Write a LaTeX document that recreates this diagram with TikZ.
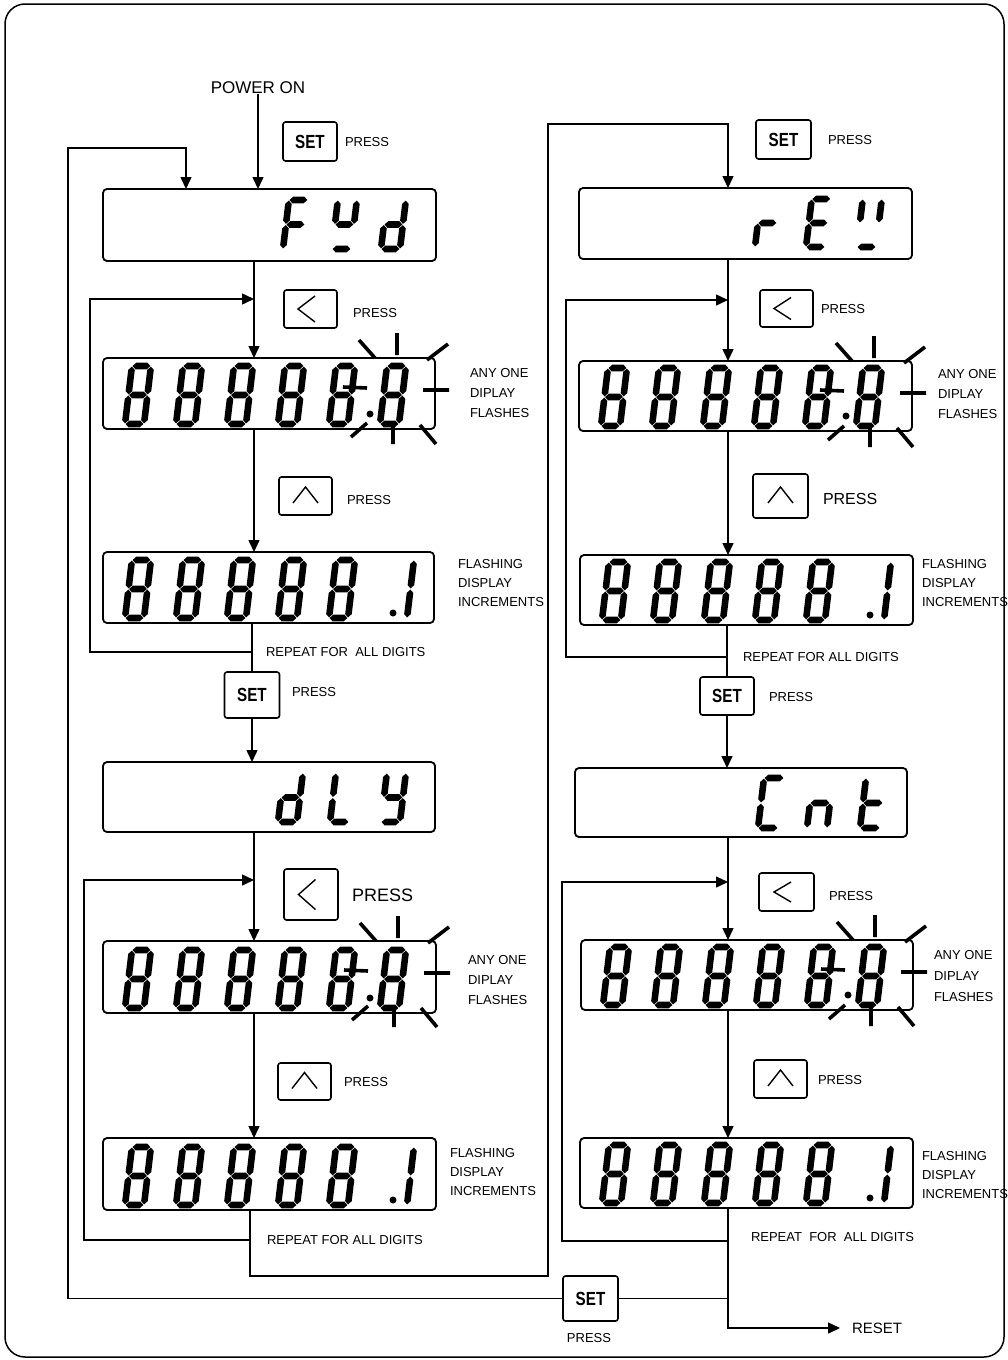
\documentclass[tikz,border=0pt]{standalone}
\usepackage{fontspec}
\setmainfont{Liberation Sans}
\usetikzlibrary{arrows.meta,calc}
% seven-segment helpers
\newcommand\dgT{3.3}
\newcommand\dgG{0.6}
\newcommand\dgW{18}
\newcommand\dgH{58}
\newcommand\segH[3]{\fill ({#1},{#3}) -- ({#1+\dgT},{#3-\dgT}) -- ({#2-\dgT},{#3-\dgT}) -- ({#2},{#3}) -- ({#2-\dgT},{#3+\dgT}) -- ({#1+\dgT},{#3+\dgT}) -- cycle;}
\newcommand\segV[3]{\fill ({#1},{#2}) -- ({#1+\dgT},{#2+\dgT}) -- ({#1+\dgT},{#3-\dgT}) -- ({#1},{#3}) -- ({#1-\dgT},{#3-\dgT}) -- ({#1-\dgT},{#2+\dgT}) -- cycle;}
\newcommand\Sa{\segH{\dgG}{\dgW-\dgG}{-\dgH}}
\newcommand\Sb{\segV{\dgW}{-\dgH+\dgG}{-\dgH/2-\dgG}}
\newcommand\Sc{\segV{\dgW}{-\dgH/2+\dgG}{-\dgG}}
\newcommand\Sd{\segH{\dgG}{\dgW-\dgG}{0}}
\newcommand\Se{\segV{0}{-\dgH/2+\dgG}{-\dgG}}
\newcommand\Sf{\segV{0}{-\dgH+\dgG}{-\dgH/2-\dgG}}
\newcommand\Sg{\segH{\dgG}{\dgW-\dgG}{-\dgH/2}}
\newcommand\dig[3]{\begin{scope}[shift={({#1},{#2})},xslant=0.12]#3\end{scope}}
\newcommand\flashdigits{%
  \renewcommand\dgW{19}\renewcommand\dgH{58}%
  \foreach \k in {0,...,5}{\dig{22+51*\k}{-5}{\Sa\Sb\Sc\Sd\Se\Sf\Sg}}
  \fill (267,-15) circle (3.5);}
\newcommand\incdigits{%
  \renewcommand\dgW{19}\renewcommand\dgH{58}%
  \foreach \k in {0,...,4}{\dig{22+51*\k}{-5}{\Sa\Sb\Sc\Sd\Se\Sf\Sg}}
  \dig{285}{-5}{\Sb\Sc}
  \fill (290,-10) circle (3.5);}
\newcommand\rays{\draw[ray] (-76,-18)--(-60,0) (-38,-25)--(-38,-3) (-8,2)--(13,-14) (-12,32)--(14,32) (-15,67)--(1,86) (-42,65)--(-42,86) (-84,79)--(-68,65) (-92,29)--(-68,30);}
\newcommand\ltglyph[2]{\draw[glyph] ($(#1)+(4.5,-#2)$) -- ($(#1)+(-12.5,0)$) -- ($(#1)+(4.5,#2)$);}
\newcommand\upglyph[1]{\draw[glyph] ($(#1)+(-12.5,7)$) -- ($(#1)+(0,-9)$) -- ($(#1)+(12.5,7)$);}
\begin{document}
\begin{tikzpicture}[x=1pt,y=-1pt,
  disp/.style={draw, rounded corners=4pt, line width=1.8pt, inner sep=0pt, outer sep=0pt},
  key/.style={draw, rounded corners=2.5pt, line width=1.6pt, inner sep=0pt, outer sep=0pt},
  conn/.style={line width=1.5pt},
  arr/.style={conn, -{Triangle[length=12pt,width=11pt]}},
  ray/.style={line width=3.6pt},
  glyph/.style={line width=1.4pt},
  lbl/.style={inner sep=0pt, outer sep=0pt, font=\fontsize{13}{15}\selectfont},
  big/.style={inner sep=0pt, outer sep=0pt, font=\fontsize{17}{20}\selectfont},
  note/.style={inner sep=0pt, outer sep=0pt, align=left, anchor=west, font=\fontsize{13}{20}\selectfont}]
\useasboundingbox (0,0) rectangle (1007,1360);
\draw[line width=1.5pt, rounded corners=20pt] (5,4) rectangle (1004,1357);
\coordinate (colL) at (254,0);
\coordinate (colR) at (728,0);
% ---------------- left column ----------------
\node[big] (pwr) at (258,88) {POWER ON};
\node[key, minimum width=54pt, minimum height=39pt] (set1) at (310,141.5) {\scalebox{0.8}[1]{\bfseries\fontsize{19}{19}\selectfont SET}};
\node[lbl, anchor=west] (p1) at (345,142) {PRESS};
\node[disp, minimum width=333pt, minimum height=72pt] (fyd) at (269.5,225) {};
\node[key, minimum width=53pt, minimum height=38pt] (lt1) at (310.5,309) {};
\node[lbl, anchor=west] (p2) at (353,313) {PRESS};
\node[disp, minimum width=332pt, minimum height=71pt] (fl1) at (269,393.5) {};
\node[note] (t1) at (470,393) {ANY ONE\\DIPLAY\\FLASHES};
\node[key, minimum width=53pt, minimum height=38pt] (up1) at (305.5,496) {};
\node[lbl, anchor=west] (p3) at (347,500) {PRESS};
\node[disp, minimum width=331pt, minimum height=71pt] (in1) at (268.5,587.5) {};
\node[note, font=\fontsize{13}{19}\selectfont] (t2) at (458,583) {FLASHING\\DISPLAY\\INCREMENTS};
\node[lbl, anchor=west] (r1) at (266,652) {REPEAT FOR\ \ ALL DIGITS};
\node[key, minimum width=55pt, minimum height=46pt] (set2) at (252,695) {\scalebox{0.8}[1]{\bfseries\fontsize{19}{19}\selectfont SET}};
\node[lbl, anchor=west] (p4) at (292,692) {PRESS};
\node[disp, minimum width=332pt, minimum height=70pt] (dly) at (269,797) {};
\node[key, minimum width=54pt, minimum height=51pt] (lt2) at (311,894.5) {};
\node[big, anchor=west, font=\fontsize{18}{20}\selectfont] (p5) at (352,895) {PRESS};
\node[disp, minimum width=333pt, minimum height=72pt] (fl2) at (269.5,977) {};
\node[note] (t3) at (468,980) {ANY ONE\\DIPLAY\\FLASHES};
\node[key, minimum width=53pt, minimum height=37pt] (up2) at (304.5,1081.5) {};
\node[lbl, anchor=west] (p6) at (344,1082) {PRESS};
\node[disp, minimum width=333pt, minimum height=72pt] (in2) at (269.5,1174) {};
\node[note, font=\fontsize{13}{19}\selectfont] (t4) at (450,1172) {FLASHING\\DISPLAY\\INCREMENTS};
\node[lbl, anchor=west] (r2) at (267,1240) {REPEAT FOR ALL DIGITS};
% ---------------- right column ----------------
\node[key, minimum width=55pt, minimum height=39pt] (set3) at (783.5,139.5) {\scalebox{0.8}[1]{\bfseries\fontsize{19}{19}\selectfont SET}};
\node[lbl, anchor=west] (p7) at (828,140) {PRESS};
\node[disp, minimum width=333pt, minimum height=71pt] (rev) at (745.5,223.5) {};
\node[key, minimum width=53pt, minimum height=37pt] (lt3) at (786.5,308.5) {};
\node[lbl, anchor=west] (p8) at (821,309) {PRESS};
\node[disp, minimum width=333pt, minimum height=70pt] (fl3) at (745.5,396) {};
\node[note] (t5) at (938,394) {ANY ONE\\DIPLAY\\FLASHES};
\node[key, minimum width=55pt, minimum height=44pt] (up3) at (780.5,496) {};
\node[big, anchor=west, font=\fontsize{16}{18}\selectfont] (p9) at (823,499) {PRESS};
\node[disp, minimum width=333pt, minimum height=70pt] (in3) at (746.5,590) {};
\node[note, font=\fontsize{13}{19}\selectfont] (t6) at (922,583) {FLASHING\\DISPLAY\\INCREMENTS};
\node[lbl, anchor=west] (r3) at (743,657) {REPEAT FOR ALL DIGITS};
\node[key, minimum width=54pt, minimum height=38pt] (set4) at (727,696) {\scalebox{0.8}[1]{\bfseries\fontsize{19}{19}\selectfont SET}};
\node[lbl, anchor=west] (p10) at (769,697) {PRESS};
\node[disp, minimum width=332pt, minimum height=69pt] (cnt) at (741,802.5) {};
\node[key, minimum width=55pt, minimum height=38pt] (lt4) at (786.5,892) {};
\node[lbl, anchor=west] (p11) at (829,896) {PRESS};
\node[disp, minimum width=332pt, minimum height=70pt] (fl4) at (747,975) {};
\node[note, font=\fontsize{13}{21}\selectfont] (t7) at (934,976) {ANY ONE\\DIPLAY\\FLASHES};
\node[key, minimum width=53pt, minimum height=38pt] (up4) at (780.5,1079) {};
\node[lbl, anchor=west] (p12) at (818,1080) {PRESS};
\node[disp, minimum width=333pt, minimum height=70pt] (in4) at (746.5,1173) {};
\node[note, font=\fontsize{13}{19}\selectfont] (t8) at (922,1175) {FLASHING\\DISPLAY\\INCREMENTS};
\node[lbl, anchor=west] (r4) at (751,1237) {REPEAT\ \ FOR\ \ ALL DIGITS};
\node[key, minimum width=55pt, minimum height=45pt] (set5) at (590.5,1298.5) {\scalebox{0.8}[1]{\bfseries\fontsize{19}{19}\selectfont SET}};
\node[lbl] (p13) at (589,1338) {PRESS};
\node[lbl, anchor=west, font=\fontsize{15}{17}\selectfont] (reset) at (852,1328) {RESET};
% ---------------- key glyphs ----------------
\ltglyph{lt1}{13}
\ltglyph{lt2}{15}
\ltglyph{lt3}{11}
\ltglyph{lt4}{10}
\upglyph{up1}
\upglyph{up2}
\upglyph{up3}
\upglyph{up4}
% ---------------- displays ----------------
\begin{scope}[shift={(fyd.south west)}]
  \renewcommand\dgW{19}\renewcommand\dgH{49}
  \dig{180}{-12}{\Sa\Sf\Sg\Se}
  \dig{229}{-12}{\Sf\Sb\Sg\Sd}
  \dig{278}{-12}{\Sb\Sc\Sd\Se\Sg}
\end{scope}
\begin{scope}[shift={(rev.south west)}]
  \renewcommand\dgW{19}\renewcommand\dgH{48}
  \dig{176}{-12}{\Se\Sg}
  \dig{227}{-12}{\Sa\Sf\Sg\Se\Sd}
  \dig{278}{-12}{\Sf\Sb\Sd}
\end{scope}
\begin{scope}[shift={(dly.south west)}]
  \renewcommand\dgW{19}\renewcommand\dgH{49}
  \dig{175}{-10}{\Sb\Sc\Sd\Se\Sg}
  \dig{227}{-10}{\Sf\Se\Sd}
  \dig{278}{-10}{\Sf\Sb\Sg\Sc\Sd}
\end{scope}
\begin{scope}[shift={(cnt.south west)}]
  \renewcommand\dgW{20}\renewcommand\dgH{50}
  \dig{183}{-9}{\Sa\Sf\Se\Sd}
  \dig{232}{-9}{\Se\Sg\Sc}
  \dig{285}{-9}{\Sf\Sg\Se\Sd}
\end{scope}
\foreach \d in {fl1,fl2,fl3,fl4}{
  \begin{scope}[shift={(\d.south west)}]\flashdigits\end{scope}
  \begin{scope}[shift={(\d.north east)}]\rays\end{scope}
}
\foreach \d in {in1,in2,in3,in4}{
  \begin{scope}[shift={(\d.south west)}]\incdigits\end{scope}
}
% ---------------- connectors ----------------
\coordinate (j1a) at (252,652);
\coordinate (j1b) at (254,299);
\coordinate (j2a) at (250,1240);
\coordinate (j2b) at (254,880);
\coordinate (j3a) at (728,657);
\coordinate (j3b) at (728,300);
\coordinate (j4a) at (728,1241);
\coordinate (j4b) at (728,882);
\coordinate (b1) at (250,1276);
\coordinate (b2) at (548,124);
\coordinate (o1) at (68,148);
\coordinate (fin) at (186,189);
\draw[arr] (pwr.south) -- (pwr.south |- fyd.north);
\draw[arr] (fyd.south -| colL) -- (fl1.north -| colL);
\draw[arr] (j1a) -- ++(-162,0) |- (j1b);
\draw[arr] (fl1.south -| colL) -- (in1.north -| colL);
\draw[conn] (in1.south -| set2) -- (set2.north);
\draw[arr] (set2.south) -- (set2.south |- dly.north);
\draw[arr] (dly.south -| colL) -- (fl2.north -| colL);
\draw[arr] (j2a) -- ++(-166,0) |- (j2b);
\draw[arr] (fl2.south -| colL) -- (in2.north -| colL);
\draw[arr] (in2.south -| b1) -- (b1) -| (b2) -| (rev.north -| colR);
\draw[arr] (set5.west) -| (o1) -| (fin);
\draw[arr] (rev.south -| colR) -- (fl3.north -| colR);
\draw[arr] (j3a) -- ++(-162,0) |- (j3b);
\draw[arr] (fl3.south -| colR) -- (in3.north -| colR);
\draw[conn] (in3.south -| set4) -- (set4.north);
\draw[arr] (set4.south) -- (set4.south |- cnt.north);
\draw[arr] (cnt.south -| colR) -- (fl4.north -| colR);
\draw[arr] (j4a) -- ++(-166,0) |- (j4b);
\draw[arr] (fl4.south -| colR) -- (in4.north -| colR);
\draw[arr] (in4.south -| colR) |- ([xshift=-12pt]reset.west);
\draw[conn] (set5.east) -- (set5.east -| colR);
\end{tikzpicture}
\end{document}
